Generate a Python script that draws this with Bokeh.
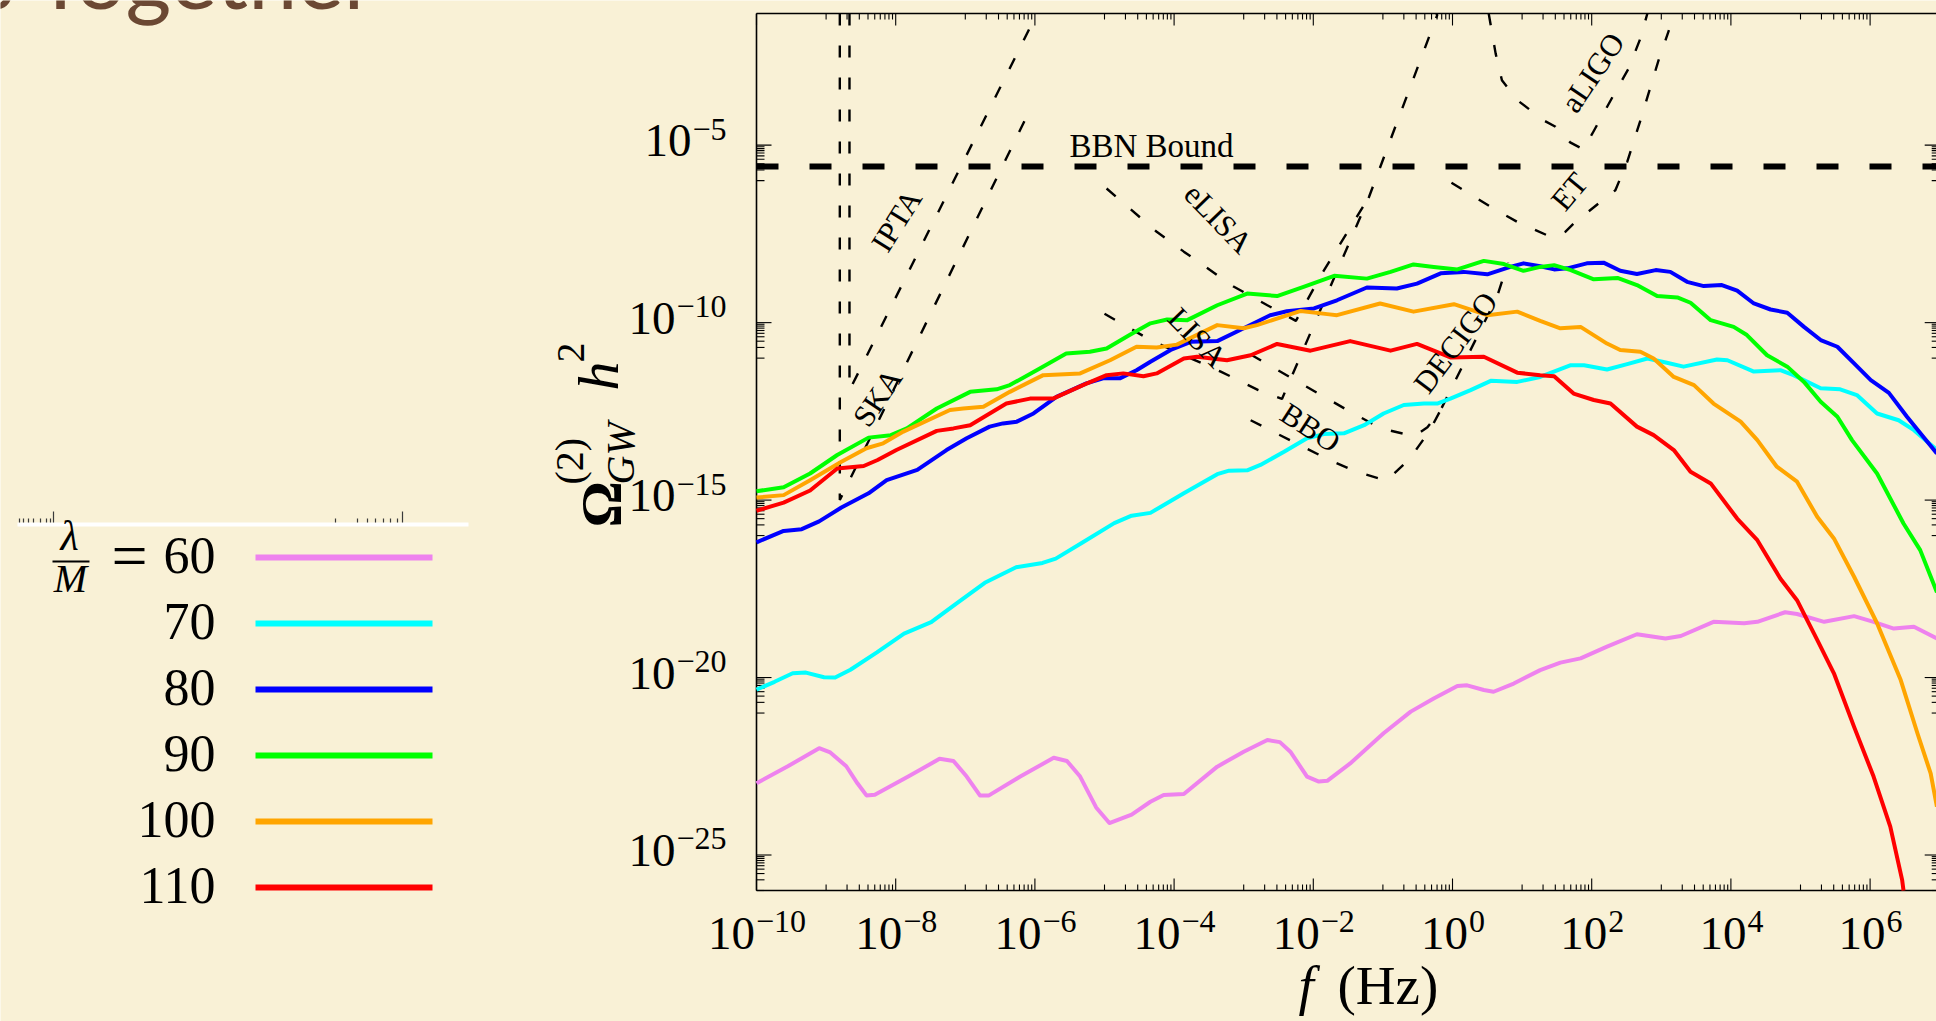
import math
from bokeh.plotting import figure
from bokeh.models import Range1d, Label
from bokeh.embed import file_html
from bokeh.resources import INLINE

# ---------------------------------------------------------------------------
# Induced GW spectra, log10(f/Hz) and log10(Omega_GW h^2) per lambda/M value
# ---------------------------------------------------------------------------
LAMBDA_M = ["60", "70", "80", "90", "100", "110"]
COLORS = ["violet", "cyan", "blue", "lime", "orange", "red"]

LF_60 = [-10.0, -9.55, -9.10, -8.94, -8.71, -8.55, -8.42, -8.30, -7.82, -7.37, -7.17, -6.98, -6.79, -6.66,
         -6.21, -5.73, -5.54, -5.35, -5.12, -4.93, -4.61, -4.34, -4.15, -3.86, -3.38, -3.00, -2.66, -2.48,
         -2.33, -2.09, -1.92, -1.80, -1.47, -0.99, -0.60, -0.27, 0.07, 0.21, 0.45, 0.59, 0.88, 1.26, 1.55,
         1.84, 2.22, 2.65, 3.06, 3.28, 3.75, 4.19, 4.38, 4.78, 4.95, 5.34, 5.77, 6.05, 6.34, 6.63, 6.96]
LO_60 = [-22.98, -22.50, -21.99, -22.11, -22.50, -22.98, -23.32, -23.30, -22.79, -22.29, -22.35, -22.79, -23.32,
         -23.32, -22.79, -22.26, -22.35, -22.79, -23.66, -24.10, -23.86, -23.50, -23.31, -23.28, -22.51, -22.09,
         -21.76, -21.82, -22.09, -22.79, -22.93, -22.91, -22.42, -21.57, -20.96, -20.59, -20.24, -20.22, -20.35,
         -20.40, -20.17, -19.79, -19.58, -19.46, -19.13, -18.78, -18.90, -18.83, -18.43, -18.47, -18.43, -18.16,
         -18.21, -18.43, -18.27, -18.43, -18.62, -18.57, -18.90]

LF_70 = [-10.0, -9.74, -9.48, -9.29, -9.03, -8.87, -8.65, -8.27, -7.88, -7.49, -7.11, -6.72, -6.27, -5.89, -5.70,
         -5.31, -4.86, -4.61, -4.34, -3.86, -3.38, -3.21, -2.95, -2.76, -2.42, -2.09, -1.85, -1.56, -1.27, -0.99,
         -0.70, -0.41, -0.22, -0.03, 0.26, 0.55, 0.93, 1.26, 1.70, 1.89, 2.22, 2.51, 2.80, 3.08, 3.32, 3.80, 3.95,
         4.33, 4.71, 4.90, 5.29, 5.57, 5.81, 6.10, 6.41, 6.63, 6.96]
LO_70 = [-20.34, -20.12, -19.88, -19.86, -19.99, -20.00, -19.78, -19.29, -18.76, -18.44, -17.89, -17.33, -16.89,
         -16.77, -16.65, -16.19, -15.65, -15.44, -15.36, -14.81, -14.27, -14.17, -14.16, -14.01, -13.64, -13.26,
         -13.14, -13.12, -12.89, -12.56, -12.32, -12.28, -12.28, -12.14, -11.90, -11.64, -11.67, -11.53, -11.20,
         -11.20, -11.32, -11.17, -11.01, -11.13, -11.24, -11.04, -11.06, -11.38, -11.34, -11.48, -11.85, -11.88,
         -12.04, -12.56, -12.75, -13.03, -13.59]

LF_80 = [-10.0, -9.61, -9.35, -9.10, -8.78, -8.39, -8.13, -7.69, -7.27, -6.98, -6.65, -6.46, -6.26, -6.02, -5.69,
         -5.26, -5.02, -4.78, -4.54, -4.34, -4.05, -3.76, -3.38, -3.00, -2.62, -2.38, -1.99, -1.66, -1.23, -0.80,
         -0.51, -0.17, 0.16, 0.50, 0.83, 1.02, 1.26, 1.46, 1.65, 1.93, 2.17, 2.41, 2.65, 2.92, 3.13, 3.37, 3.61,
         3.87, 4.09, 4.33, 4.57, 4.81, 5.05, 5.29, 5.53, 5.77, 6.01, 6.27, 6.53, 6.96]
LO_80 = [-16.19, -15.87, -15.82, -15.60, -15.21, -14.81, -14.44, -14.15, -13.59, -13.26, -12.93, -12.84, -12.79,
         -12.56, -12.09, -11.71, -11.57, -11.57, -11.34, -11.10, -10.77, -10.54, -10.52, -10.16, -9.79, -9.68,
         -9.60, -9.37, -9.01, -9.04, -8.90, -8.61, -8.57, -8.64, -8.43, -8.33, -8.41, -8.50, -8.47, -8.33, -8.31,
         -8.54, -8.63, -8.52, -8.57, -8.85, -8.97, -8.94, -9.10, -9.46, -9.63, -9.72, -10.12, -10.49, -10.68,
         -11.15, -11.62, -11.98, -12.65, -13.69]

LF_90 = [-10.0, -9.61, -9.23, -8.84, -8.39, -8.07, -7.84, -7.41, -6.93, -6.55, -6.36, -5.93, -5.55, -5.21, -4.97,
         -4.64, -4.34, -4.10, -3.81, -3.38, -2.95, -2.52, -2.14, -1.70, -1.23, -0.89, -0.56, -0.27, 0.07, 0.45,
         0.74, 1.02, 1.26, 1.46, 1.70, 2.03, 2.37, 2.65, 2.94, 3.23, 3.42, 3.71, 4.04, 4.23, 4.52, 4.81, 5.05,
         5.29, 5.53, 5.74, 6.10, 6.48, 6.72, 6.96]
LO_90 = [-14.75, -14.64, -14.25, -13.73, -13.24, -13.17, -12.98, -12.42, -11.95, -11.88, -11.76, -11.29, -10.87,
         -10.82, -10.73, -10.35, -10.02, -9.91, -9.93, -9.51, -9.18, -9.25, -8.99, -8.68, -8.76, -8.57, -8.36,
         -8.43, -8.50, -8.26, -8.35, -8.54, -8.43, -8.38, -8.52, -8.78, -8.74, -8.94, -9.25, -9.29, -9.44, -9.93,
         -10.12, -10.35, -10.92, -11.24, -11.67, -12.23, -12.65, -13.31, -14.25, -15.66, -16.41, -17.60]

LF_100 = [-10.0, -9.61, -9.23, -8.78, -8.42, -8.18, -7.89, -7.22, -7.03, -6.74, -6.36, -5.88, -5.35, -4.92, -4.54,
          -4.25, -3.96, -3.38, -3.00, -2.81, -2.18, -1.80, -1.66, -1.04, -0.56, 0.02, 0.50, 0.93, 1.26, 1.55, 1.84,
          2.22, 2.41, 2.70, 2.89, 3.18, 3.47, 3.75, 4.14, 4.38, 4.66, 4.95, 5.24, 5.48, 5.77, 6.10, 6.44, 6.68,
          6.87, 6.96]
LO_100 = [-14.93, -14.86, -14.44, -13.92, -13.54, -13.40, -13.07, -12.46, -12.42, -12.37, -11.95, -11.48, -11.43,
          -11.06, -10.68, -10.70, -10.62, -10.07, -10.16, -10.07, -9.67, -9.76, -9.79, -9.46, -9.69, -9.48, -9.79,
          -9.69, -9.95, -10.16, -10.12, -10.59, -10.77, -10.82, -11.01, -11.53, -11.76, -12.28, -12.79, -13.31,
          -14.06, -14.48, -15.47, -16.08, -17.16, -18.47, -20.07, -21.57, -22.70, -23.64]

LF_110 = [-10.0, -9.61, -9.23, -8.84, -8.46, -8.26, -7.99, -7.41, -7.17, -6.93, -6.41, -6.07, -5.74, -5.31, -4.97,
          -4.73, -4.44, -4.25, -3.86, -3.67, -3.24, -2.90, -2.52, -2.04, -1.47, -0.89, -0.51, -0.03, 0.45, 0.93,
          1.26, 1.46, 1.74, 2.03, 2.27, 2.65, 2.89, 3.18, 3.42, 3.71, 4.09, 4.38, 4.71, 4.95, 5.24, 5.48, 5.77,
          6.05, 6.29, 6.46, 6.48]
LO_110 = [-15.30, -15.07, -14.73, -14.11, -14.04, -13.87, -13.59, -13.05, -12.98, -12.89, -12.28, -12.14, -12.14,
          -11.76, -11.48, -11.43, -11.51, -11.43, -11.01, -10.96, -11.06, -10.92, -10.60, -10.79, -10.52, -10.79,
          -10.60, -10.98, -10.96, -11.41, -11.48, -11.51, -12.00, -12.18, -12.28, -12.93, -13.17, -13.59, -14.20,
          -14.53, -15.52, -16.13, -17.21, -17.82, -18.94, -19.88, -21.39, -22.79, -24.20, -25.70, -26.00]

SPECTRA_LF = [LF_60, LF_70, LF_80, LF_90, LF_100, LF_110]
SPECTRA_LO = [LO_60, LO_70, LO_80, LO_90, LO_100, LO_110]

# ---------------------------------------------------------------------------
# Detector sensitivity curves (log10 f, log10 Omega h^2)
# ---------------------------------------------------------------------------
BBN_BOUND = -5.6

IPTA_LF = [-8.664, -8.664, -5.97]
IPTA_LO = [-1.29, -11.91, -1.29]
SKA_LF = [-8.803, -8.803, -6.12]
SKA_LO = [-1.29, -15.0, -4.20]
ELISA_LF = [-4.97, -4.25, -3.86, -3.14, -2.66, -2.25, -1.90, -1.20]
ELISA_LO = [-6.22, -7.44, -8.00, -8.99, -9.51, -9.95, -8.70, -6.46]
LISA_LF = [-5.00, -4.34, -3.72, -3.33, -2.79, -2.45, -2.23, -1.20, -0.22, -0.23]
LISA_LO = [-9.75, -10.49, -11.04, -11.38, -11.90, -12.15, -11.15, -6.46, -1.34, -1.29]
BBO_LF = [-2.90, -2.60, -1.78, -1.38, -0.95, -0.62, -0.33, -0.17]
BBO_LO = [-12.75, -13.05, -13.86, -14.20, -14.45, -13.85, -13.05, -12.46]
DECIGO_LF = [-2.90, -1.47, -1.03, -0.55, -0.36, -0.17, 0.64, 0.80]
DECIGO_LO = [-10.90, -12.51, -12.98, -13.20, -12.95, -12.46, -9.27, -8.30]
ALIGO_LF = [0.52, 0.62, 0.71, 0.93, 1.31, 1.48, 1.69, 1.88, 2.01, 2.30, 2.53, 2.70, 2.80]
ALIGO_LO = [-1.29, -2.42, -3.17, -3.73, -4.30, -4.48, -4.92, -5.12, -4.67, -3.64, -2.84, -1.99, -1.29]
ET_LF = [-0.015, 0.16, 0.55, 0.93, 1.36, 1.48, 1.62, 1.74, 2.10, 2.34, 2.51, 2.70, 2.96, 3.11]
ET_LO = [-6.06, -6.27, -6.74, -7.16, -7.54, -7.58, -7.44, -7.21, -6.64, -6.27, -5.47, -4.30, -2.61, -1.76]

DETECTORS = [(IPTA_LF, IPTA_LO), (SKA_LF, SKA_LO), (ELISA_LF, ELISA_LO), (LISA_LF, LISA_LO),
             (BBO_LF, BBO_LO), (DECIGO_LF, DECIGO_LO), (ALIGO_LF, ALIGO_LO), (ET_LF, ET_LO)]

# detector names, label centre (px) and text angle (deg)
DET_LABELS = [("IPTA", 896, 220, 58), ("SKA", 877, 397, 56), ("eLISA", 1218, 218, -46),
              ("LISA", 1197, 337, -46), ("BBO", 1310, 427, -33), ("DECIGO", 1455, 342, 53),
              ("aLIGO", 1592, 72, 56), ("ET", 1569, 191, 50)]

X_MAJOR_EXP = [-10, -8, -6, -4, -2, 0, 2, 4, 6]
Y_MAJOR_EXP = [-25, -20, -15, -10, -5]

# ---------------------------------------------------------------------------
# page geometry: the whole canvas is the data frame; the plot box sits inside
# ---------------------------------------------------------------------------
BG = "#F9F1D6"
SERIF = "Liberation Serif"
W, H = 1936, 1021
BOX_L, BOX_T, BOX_B = 756, 13, 890          # plot box edges in canvas pixels
AX_X0, AX_X1 = -10.0, 6.954                 # log f at box left / canvas right
AX_Y0, AX_Y1 = -26.0, -1.29                 # log Omega at box bottom / top
AX_XR = 7.0                                  # right box edge (just past the canvas)
PXX = (W - BOX_L) / (AX_X1 - AX_X0)
PXY = (BOX_B - BOX_T) / (AX_Y1 - AX_Y0)
XL = AX_X0 - BOX_L / PXX
YT = AX_Y1 + BOX_T / PXY
YB = AX_Y0 - (H - BOX_B) / PXY

# distance (in em) between the anchor Bokeh uses for "alphabetic" text and the true baseline
BASELINE_SHIFT = {SERIF: 0.345, "Lato": 0.40}


def dx(px):
    """canvas x pixel -> data x"""
    return 10 ** (XL + px / PXX)


def dy(py):
    """canvas y pixel (from top) -> data y"""
    return 10 ** (YT - py / PXY)


def sx(lv):
    return (lv - XL) * PXX


def sy(lv):
    return (YT - lv) * PXY


p = figure(width=W, height=H, x_axis_type="log", y_axis_type="log",
           x_range=Range1d(10 ** XL, 10 ** AX_X1), y_range=Range1d(10 ** YB, 10 ** YT),
           x_axis_location=None, y_axis_location=None, min_border=0,
           output_backend="svg", toolbar_location=None)
p.background_fill_color = BG
p.border_fill_color = BG
p.outline_line_color = None
p.grid.visible = False

# ---------------------------------------------------------------------------
# plot box and inward ticks (log decades, every second decade labelled on x)
# ---------------------------------------------------------------------------
x_major = X_MAJOR_EXP
x_minor = [math.log10(j) + k - 1 for k in X_MAJOR_EXP + [8] for j in range(1, 10) if k - 1 >= AX_X0]
y_major = Y_MAJOR_EXP
y_minor = [math.log10(j) + m - 1 for m in Y_MAJOR_EXP for j in range(1, 10)]

seg = dict(x0=[], y0=[], x1=[], y1=[], w=[])


def add_seg(lx0, ly0, lx1, ly1, w):
    seg["x0"].append(10 ** lx0)
    seg["y0"].append(10 ** ly0)
    seg["x1"].append(10 ** lx1)
    seg["y1"].append(10 ** ly1)
    seg["w"].append(w)


# box edges
add_seg(AX_X0, AX_Y0, AX_X0, AX_Y1, 1.6)
add_seg(AX_X0, AX_Y0, AX_XR, AX_Y0, 1.6)
add_seg(AX_X0, AX_Y1, AX_XR, AX_Y1, 1.6)
for ticks, length in ((x_major, 12), (x_minor, 6)):
    for t in ticks:
        add_seg(t, AX_Y0, t, AX_Y0 + length / PXY, 1.1)
        add_seg(t, AX_Y1, t, AX_Y1 - length / PXY, 1.1)
for ticks, length in ((y_major, 15), (y_minor, 8)):
    for t in ticks:
        add_seg(AX_X0, t, AX_X0 + length / PXX, t, 1.1)
        add_seg(AX_XR, t, AX_XR - length / PXX, t, 1.1)
p.segment(x0="x0", y0="y0", x1="x1", y1="y1", line_width="w", line_color="black", source=seg)

# sensitivity curves
for lf, lo in DETECTORS:
    p.line([10 ** v for v in lf], [10 ** v for v in lo], line_color="black", line_width=2.4,
           line_dash="12 20")
p.line([10 ** AX_X0, 10 ** AX_XR], [10 ** BBN_BOUND] * 2, line_color="black", line_width=6,
       line_dash="22 31")

# spectra
for lf, lo, c in zip(SPECTRA_LF, SPECTRA_LO, COLORS):
    p.line([10 ** v for v in lf], [10 ** v for v in lo], line_color=c, line_width=4, line_join="round")


def label(px, py, text, size, align="left", baseline="alphabetic", style="normal", angle=0.0,
          font=SERIF, color="black"):
    """place text with its baseline (or centre) at canvas pixel (px, py)"""
    if baseline == "alphabetic":
        off = BASELINE_SHIFT.get(font, 0.35) * size
        px -= off * math.sin(angle)
        py -= off * math.cos(angle)
    p.add_layout(Label(x=dx(px), y=dy(py), text=text, text_font=font, text_font_size=f"{size}px",
                       text_font_style=style, text_align=align, text_baseline=baseline,
                       angle=angle, text_color=color))


# detector labels
label(1069, 157, "BBN Bound", 33)
for name, cx, cy, ang in DET_LABELS:
    label(cx, cy, name, 31, align="center", baseline="middle", angle=math.radians(ang))

# tick labels: "10" with raised exponent
F_BASE, F_EXP = 47, 32


def exp_text(k):
    return ("\u2212" + str(-k)) if k < 0 else str(k)


def exp_width(k):
    return F_EXP * ((0.564 if k < 0 else 0.0) + 0.5 * len(str(abs(k))))


for k in X_MAJOR_EXP:
    total = F_BASE + exp_width(k)
    left = sx(k) - total / 2
    label(left, 949, "10", F_BASE)
    label(left + F_BASE + 1, 932, exp_text(k), F_EXP)

for m in Y_MAJOR_EXP:
    yc = sy(m)
    label(726, yc - 5, exp_text(m), F_EXP, align="right")
    label(726 - exp_width(m) - 1, yc + 12, "10", F_BASE, align="right")

# axis titles
label(1298, 1004, "f", 55, style="italic")
label(1337, 1004, "(Hz)", 55)

up = math.pi / 2
label(621, 527, "\u03a9", 58, style="bold", angle=up)
label(583, 484, "(2)", 40, angle=up)
label(634, 484, "GW", 40, style="italic", angle=up)
label(618, 390, "h", 58, style="italic", angle=up)
label(584, 362, "2", 40, angle=up)

# legend (left side)
LEG_BASE = [573, 639, 705, 771, 837, 903]
leg = dict(x0=[], x1=[], y=[], c=[])
for txt, c, yb in zip(LAMBDA_M, COLORS, LEG_BASE):
    label(215, yb, txt, 52, align="right")
    leg["x0"].append(dx(255))
    leg["x1"].append(dx(432))
    leg["y"].append(dy(yb - 16))
    leg["c"].append(c)
p.segment(x0="x0", y0="y", x1="x1", y1="y", line_color="c", line_width=6, source=leg)
label(147, 577, "=", 64, align="right")
label(69, 550, "\u03bb", 42, align="center", style="italic")
label(70, 592, "M", 40, align="center", style="italic")
p.segment(x0=[dx(52)], y0=[dy(561)], x1=[dx(89)], y1=[dy(561)], line_color="black", line_width=2)

# thin white rule with remnant tick marks
p.segment(x0=[dx(17)], y0=[dy(524)], x1=[dx(468)], y1=[dy(524)], line_color="white", line_width=4)
marks_x = [19, 23, 28, 33, 40, 46, 50, 53, 335, 357, 367, 375, 383, 390, 397, 402]
marks_top = [518, 518, 518, 518, 518, 518, 518, 511, 518, 518, 518, 518, 518, 518, 518, 511]
p.segment(x0=[dx(v) for v in marks_x], y0=[dy(522)] * len(marks_x), x1=[dx(v) for v in marks_x],
          y1=[dy(v) for v in marks_top], line_color="#3a3a3a", line_width=1.2)

# slide heading fragment
label(-24, 10, "s Together", 88, font="Lato", color="#6B4833")

open("out.html", "w").write(file_html(p, INLINE))
